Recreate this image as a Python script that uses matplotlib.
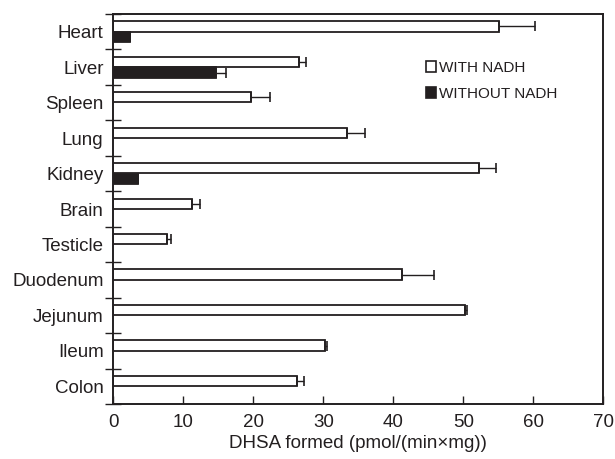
import numpy as np
import matplotlib
matplotlib.use('Agg')
import matplotlib.pyplot as plt
from matplotlib.patches import Patch

plt.rcParams['font.family'] = ['Liberation Sans', 'DejaVu Sans']

tissues = ['Heart', 'Liver', 'Spleen', 'Lung', 'Kidney', 'Brain', 'Testicle',
           'Duodenum', 'Jejunum', 'Ileum', 'Colon']
with_nadh = [55.1, 26.6, 19.7, 33.4, 52.3, 11.3, 7.7, 41.2, 50.3, 30.3, 26.2]
with_err = [5.1, 0.9, 2.7, 2.6, 2.4, 1.1, 0.6, 4.6, 0.2, 0.3, 1.0]
without_nadh = [2.4, 14.7, 0, 0, 3.6, 0, 0, 0, 0, 0, 0]
without_err = [0, 1.4, 0, 0, 0, 0, 0, 0, 0, 0, 0]

ink = '#231f20'
y = np.arange(len(tissues))
h = 0.29

fig = plt.figure(figsize=(6.15, 4.59), dpi=100)
ax = fig.add_axes([0.1842, 0.1198, 0.7968, 0.8497])

ek = dict(ecolor=ink, elinewidth=1.0, capsize=3.3, capthick=1.2)
ax.barh(y - 0.15, with_nadh, height=h, color='white', edgecolor=ink, linewidth=1.3,
        xerr=[np.zeros(len(with_err)), with_err], error_kw=ek, zorder=2)
nz = [i for i, v in enumerate(without_nadh) if v > 0]
ax.barh(y[nz] + 0.15, [without_nadh[i] for i in nz], height=h, color=ink, edgecolor=ink,
        linewidth=1.3, xerr=[np.zeros(len(nz)), [without_err[i] for i in nz]],
        error_kw=ek, zorder=2)

ax.set_xlim(0, 70)
ax.set_ylim(len(tissues) - 0.5, -0.5)
ax.set_xticks(np.arange(0, 71, 10))
ax.set_yticks(y)
ax.set_yticklabels(tissues)
ax.set_yticks(np.arange(-0.5, len(tissues), 1), minor=True)
ax.tick_params(axis='y', which='major', length=0, pad=7, labelsize=13.5, colors=ink)
ax.tick_params(axis='y', which='minor', direction='inout', length=11, width=1.0, color=ink)
ax.tick_params(axis='x', direction='in', length=6, width=1.0, pad=7, labelsize=13.5, colors=ink)
for s in ax.spines.values():
    s.set_linewidth(1.4)
    s.set_color(ink)

ax.set_xlabel('DHSA formed (pmol/(min×mg))', fontsize=13.5, color=ink, labelpad=3)

handles = [Patch(facecolor='white', edgecolor=ink, linewidth=1.2, label='WITH NADH'),
           Patch(facecolor=ink, edgecolor=ink, linewidth=1.2, label='WITHOUT NADH')]
leg = ax.legend(handles=handles, loc='upper left', bbox_to_anchor=(0.625, 0.895),
                frameon=False, fontsize=11, handlelength=0.7, handleheight=0.7,
                handletextpad=0.2, labelspacing=0.75, borderaxespad=0)
for t in leg.get_texts():
    t.set_color(ink)

fig.savefig('out.png', dpi=100)
